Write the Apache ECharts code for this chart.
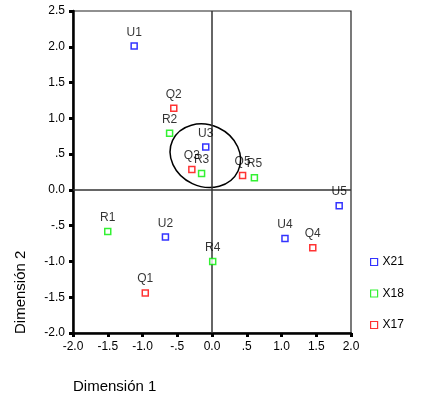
<!DOCTYPE html>
<html>
<head>
<meta charset="utf-8">
<script src="https://cdn.jsdelivr.net/npm/echarts@6/dist/echarts.min.js"></script>
<style>html,body{margin:0;padding:0;background:#fff}#c{width:421px;height:401px}</style>
</head>
<body>
<div id="c"></div>
<script>
// ---- data ----
var seriesNames = ['X21', 'X18', 'X17'];
var x21Labels = ['U1', 'U2', 'U3', 'U4', 'U5'];
var x21X = [-1.12, -0.67, -0.09, 1.05, 1.83];
var x21Y = [2.01, -0.66, 0.60, -0.68, -0.22];
var x18Labels = ['R1', 'R2', 'R3', 'R4', 'R5'];
var x18X = [-1.50, -0.61, -0.15, 0.01, 0.61];
var x18Y = [-0.58, 0.79, 0.23, -1.00, 0.17];
var x17Labels = ['Q1', 'Q2', 'Q3', 'Q4', 'Q5'];
var x17X = [-0.96, -0.55, -0.29, 1.45, 0.44];
var x17Y = [-1.44, 1.14, 0.285, -0.81, 0.20];
var xTickLabels = ['-2.0', '-1.5', '-1.0', '-.5', '0.0', '.5', '1.0', '1.5', '2.0'];
var yTickLabels = ['-2.0', '-1.5', '-1.0', '-.5', '0.0', '.5', '1.0', '1.5', '2.0', '2.5'];
// ellipse annotation: center x, center y, radius x, radius y (data units), tilt (degrees)
var ellipseParams = [-0.096, 0.478, 0.52, 0.43, -25];

var FONT = 'Liberation Sans, Arial, sans-serif';
var colors = ['#0000ff', '#00ee00', '#ff0000'];

function pts(xs, ys, labels) {
  return xs.map(function (x, i) { return { value: [x, ys[i]], name: labels[i] }; });
}
function scatter(name, data, color) {
  return {
    name: name,
    type: 'scatter',
    symbol: 'rect',
    symbolSize: 6,
    data: data,
    itemStyle: { color: '#fff', borderColor: color, borderWidth: 1.5 },
    label: {
      show: true, position: 'top', distance: 4,
      formatter: function (p) { return p.name; },
      color: '#000', fontSize: 12, fontFamily: FONT
    },
    z: 5
  };
}

var chart = echarts.init(document.getElementById('c'), null, { renderer: 'canvas' });
chart.setOption({
  animation: false,
  backgroundColor: '#fff',
  grid: { left: 73, right: 70, top: 11, bottom: 68, show: true, borderColor: '#222', borderWidth: 1.2, backgroundColor: 'transparent' },
  xAxis: {
    type: 'value', min: -2, max: 2, interval: 0.5,
    axisLine: { show: true, onZero: false, lineStyle: { color: '#000', width: 2.5 } },
    axisTick: { show: true, length: 4, lineStyle: { color: '#000', width: 3 } },
    axisLabel: { margin: 8, color: '#000', fontSize: 12, fontFamily: FONT,
      formatter: function (v, i) { return xTickLabels[i]; } },
    splitLine: { show: false }
  },
  yAxis: {
    type: 'value', min: -2, max: 2.5, interval: 0.5,
    axisLine: { show: true, onZero: false, lineStyle: { color: '#000', width: 2.5 } },
    axisTick: { show: true, length: 4, lineStyle: { color: '#000', width: 3 } },
    axisLabel: { margin: 8, color: '#000', fontSize: 12, fontFamily: FONT,
      formatter: function (v, i) { return yTickLabels[i]; } },
    splitLine: { show: false }
  },
  legend: {
    orient: 'vertical', left: 365, top: 251,
    itemWidth: 7, itemHeight: 7, itemGap: 19.5,
    data: seriesNames,
    itemStyle: { borderWidth: 1.2 },
    textStyle: { color: '#000', fontSize: 12, fontFamily: FONT }
  },
  graphic: [
    { type: 'text', left: 73, top: 379, style: { text: 'Dimensión 1', font: '15px ' + FONT, fill: '#000' } },
    { type: 'text', x: 13, y: 334, rotation: Math.PI / 2, style: { text: 'Dimensión 2', font: '15px ' + FONT, fill: '#000', textAlign: 'left', textVerticalAlign: 'top' } }
  ],
  series: [
    scatter('X21', pts(x21X, x21Y, x21Labels), colors[0]),
    scatter('X18', pts(x18X, x18Y, x18Labels), colors[1]),
    scatter('X17', pts(x17X, x17Y, x17Labels), colors[2]),
    {
      type: 'custom', silent: true, z: 3,
      data: [ellipseParams],
      renderItem: function (params, api) {
        var c = api.coord([api.value(0), api.value(1)]);
        var s = api.size([api.value(2), api.value(3)]);
        return {
          type: 'ellipse',
          x: c[0], y: c[1],
          rotation: api.value(4) * Math.PI / 180,
          shape: { cx: 0, cy: 0, rx: s[0], ry: s[1] },
          style: { fill: 'none', stroke: '#000', lineWidth: 1.5 }
        };
      }
    },
    {
      type: 'line', silent: true, data: [], z: 2,
      markLine: {
        silent: true, symbol: 'none', label: { show: false },
        lineStyle: { color: '#333', width: 1.5, type: 'solid' },
        data: [{ xAxis: 0 }, { yAxis: 0 }]
      }
    }
  ]
});
</script>
</body>
</html>
